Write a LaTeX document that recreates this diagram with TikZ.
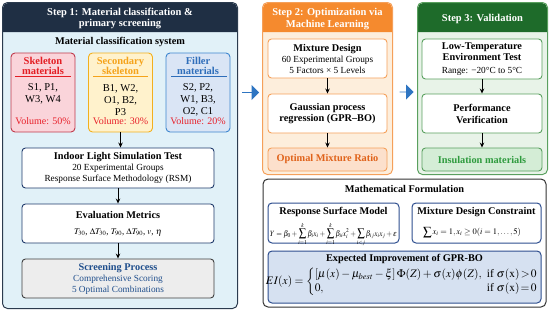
\documentclass[tikz,border=0pt]{standalone}
\usepackage{amsmath}
\usepackage{mathptmx}
\usepackage{fontspec}
\setmainfont{Liberation Serif}
\usetikzlibrary{shapes.arrows,arrows.meta,calc}
\newcommand\btfont{\fontsize{10.3}{11}\selectfont\bfseries}
\definecolor{navyhead}{HTML}{1F2F44}
\definecolor{p1body}{HTML}{E1F1F8}
\definecolor{p1border}{HTML}{2B3B4E}
\definecolor{skb}{HTML}{C0394B}
\definecolor{skf}{HTML}{FAD4DA}
\definecolor{skt}{HTML}{E31E24}
\definecolor{seb}{HTML}{F2B01E}
\definecolor{sef}{HTML}{FFF2CC}
\definecolor{set}{HTML}{F5A31A}
\definecolor{fib}{HTML}{3D86CF}
\definecolor{fif}{HTML}{DAE5F5}
\definecolor{fit}{HTML}{2F6EBA}
\definecolor{volred}{HTML}{E8202A}
\definecolor{boxnavy}{HTML}{1F3A6B}
\definecolor{scrf}{HTML}{EDEDED}
\definecolor{scrt}{HTML}{1F4E8C}
\definecolor{orhead}{HTML}{F58A2E}
\definecolor{orbody}{HTML}{FDEEDC}
\definecolor{orborder}{HTML}{F5A05A}
\definecolor{optf}{HTML}{FCE0CC}
\definecolor{optt}{HTML}{E0621A}
\definecolor{grhead}{HTML}{1E6B2A}
\definecolor{grbody}{HTML}{E8F3E8}
\definecolor{grborder}{HTML}{5AA05F}
\definecolor{insf}{HTML}{D4EDD6}
\definecolor{inst}{HTML}{2E9B3E}
\definecolor{bigarrow}{HTML}{2E75C2}
\definecolor{mathborder}{HTML}{333333}
\definecolor{rsmb}{HTML}{2F4F8F}
\definecolor{eif}{HTML}{D6E1F1}
\begin{document}
\begin{tikzpicture}[x=1pt,y=-1pt,
  panel/.style={rounded corners=5pt, line width=1pt, inner sep=0pt},
  htxt/.style={text=white, font=\fontsize{10.5}{11.5}\selectfont\bfseries, align=center, inner sep=0pt},
  matbox/.style={draw, rounded corners=4pt, line width=0.9pt, minimum width=64pt, minimum height=79pt, inner sep=0pt},
  mtitle/.style={font=\fontsize{10.5}{10.5}\selectfont\bfseries, align=center, inner sep=0pt},
  mtext/.style={font=\fontsize{10.5}{12}\selectfont, align=center, inner sep=0pt},
  mvol/.style={font=\fontsize{10}{12}\selectfont, text=volred, inner sep=0pt},
  sbox/.style={draw, fill=white, rounded corners=3.5pt, line width=0.9pt, inner sep=0pt, align=center, font=\fontsize{9.3}{11}\selectfont},
  btitle/.style={font=\btfont},
  flow/.style={-{Stealth[length=5pt,width=4.5pt]}, line width=0.9pt, black},
  bigarr/.style={single arrow, fill=bigarrow, draw=none, single arrow head extend=3.5pt, minimum width=15pt, inner sep=0pt}
]
\useasboundingbox (0,0) rectangle (550,311);

% ---------- Panel 1 ----------
\node[panel, fill=p1body, minimum width=234pt, minimum height=305pt] (p1) at (120,155.5) {};
\fill[navyhead] (3,32) [rounded corners=5pt] -- (3,3) -- (237,3) [sharp corners] -- (237,32) -- cycle;
\draw[p1border, line width=1pt, rounded corners=5pt] (p1.north west) rectangle (p1.south east);
\node[htxt] (p1t) at (120,18.5) {Step 1: Material classification \&\\primary screening};
\node[btitle, inner sep=0pt] (mcs) at (120,42) {Material classification system};

\node[matbox, draw=skb, fill=skf] (skel) at (43,92.5) {};
\node[mtitle, text=skt] (skelt) at (43,66) {Skeleton\\materials};
\draw[skt, line width=0.8pt] (15,76.5) -- (71,76.5);
\node[mtext] (skelc) at (43,94) {S1, P1,\\W3, W4};
\node[mvol] (skelv) at (43,121) {Volume: 50\%};

\node[matbox, draw=seb, fill=sef] (sec) at (120.5,92.5) {};
\node[mtitle, text=set] (sect) at (120.5,66) {Secondary\\skeleton};
\draw[set, line width=0.8pt] (93,76.5) -- (148,76.5);
\node[mtext] (secc) at (120.5,100) {B1, W2,\\O1, B2,\\P3};
\node[mvol] (secv) at (120.5,121) {Volume: 30\%};

\node[matbox, draw=fib, fill=fif] (fil) at (198,92.5) {};
\node[mtitle, text=fit] (filt) at (198,66) {Filler\\materials};
\draw[fit, line width=0.8pt] (171,76.5) -- (227,76.5);
\node[mtext] (filc) at (198,100) {S2, P2,\\W1, B3,\\O2, C1};
\node[mvol] (filv) at (198,121) {Volume: 20\%};

\node[sbox, draw=boxnavy, minimum width=192pt, minimum height=40pt] (indoor) at (118,168)
  {{\btfont Indoor Light Simulation Test}\\20 Experimental Groups\\Response Surface Methodology (RSM)};
\node[sbox, draw=boxnavy, minimum width=192pt, minimum height=39pt] (eval) at (118,223.5)
  {{\btfont Evaluation Metrics}\\[5pt]{\fontsize{8.8}{10}\selectfont $T_{30}$, $\Delta T_{30}$, $T_{90}$, $\Delta T_{90}$, $v$, $\eta$}};
\node[sbox, draw=black!75, fill=scrf, text=scrt, minimum width=192pt, minimum height=39pt] (scr) at (118,278.5)
  {{\btfont Screening Process}\\Comprehensive Scoring\\5 Optimal Combinations};

\draw[flow] (sec.south) -- (sec.south |- indoor.north);
\draw[flow] (indoor.south) -- (eval.north);
\draw[flow] (eval.south) -- (scr.north);

% ---------- Panel 2 ----------
\node[panel, fill=orbody, minimum width=129pt, minimum height=171pt] (p2) at (327.5,88.5) {};
\fill[orhead] (263,32) [rounded corners=5pt] -- (263,3) -- (392,3) [sharp corners] -- (392,32) -- cycle;
\draw[orborder, line width=1pt, rounded corners=5pt] (p2.north west) rectangle (p2.south east);
\node[htxt] (p2t) at (327.5,19) {Step 2: Optimization via\\Machine Learning};

\node[sbox, draw=orborder, minimum width=119pt, minimum height=39pt] (mix) at (327.5,58.5)
  {{\btfont Mixture Design}\\60 Experimental Groups\\5 Factors × 5 Levels};
\node[sbox, draw=orborder, minimum width=119pt, minimum height=39pt, font=\fontsize{10.3}{11.5}\selectfont\bfseries] (gpr) at (327.5,113.5)
  {Gaussian process\\regression (GPR–BO)};
\node[sbox, draw=orborder, fill=optf, text=optt, minimum width=119pt, minimum height=23pt, font=\btfont] (opt) at (327.5,159.5)
  {Optimal Mixture Ratio};
\draw[flow] (mix.south) -- (gpr.north);
\draw[flow] (gpr.south) -- (opt.north);

% ---------- Panel 3 ----------
\node[panel, fill=grbody, minimum width=129pt, minimum height=171pt] (p3) at (482.5,88.5) {};
\fill[grhead] (418,32) [rounded corners=5pt] -- (418,3) -- (547,3) [sharp corners] -- (547,32) -- cycle;
\draw[grborder, line width=1pt, rounded corners=5pt] (p3.north west) rectangle (p3.south east);
\node[htxt] (p3t) at (482.5,19) {Step 3: Validation};

\node[sbox, draw=grborder, minimum width=120pt, minimum height=40pt] (lowt) at (482,59)
  {{\btfont Low-Temperature}\\{\btfont Environment Test}\\[2pt]Range: −20°C to 5°C};
\node[sbox, draw=grborder, minimum width=120pt, minimum height=39pt, font=\fontsize{10.3}{12}\selectfont\bfseries] (perf) at (482,113.5)
  {Performance\\Verification};
\node[sbox, draw=grborder, fill=insf, text=inst, minimum width=120pt, minimum height=23pt, font=\btfont] (ins) at (482,159.5)
  {Insulation materials};
\draw[flow] (lowt.south) -- (perf.north);
\draw[flow] (perf.south) -- (ins.north);

% ---------- Big arrows ----------
\node[bigarr, minimum height=17pt] (a1) at (250.5,92.5) {};
\node[bigarr, minimum height=14pt] (a2) at (406.5,92) {};

% ---------- Math panel ----------
\node[draw=mathborder, fill=white, rounded corners=5pt, line width=1pt, minimum width=283pt, minimum height=128pt, inner sep=0pt] (mp) at (404.5,243) {};
\node[btitle, inner sep=0pt] (mpt) at (404.5,189) {Mathematical Formulation};

\node[draw=rsmb, fill=white, rounded corners=4pt, line width=1pt, minimum width=131pt, minimum height=40pt, inner sep=0pt] (rsm) at (333.5,223) {};
\node[btitle, inner sep=0pt] (rsmt) at (333.5,212) {Response Surface Model};
\node[inner sep=0pt] (rsmf) at (333.5,234.5) {\resizebox{127pt}{13.5pt}{$\displaystyle Y=\beta_0+\sum_{i=1}^{k}\beta_i x_i+\sum_{i=1}^{k}\beta_{ii}x_i^2+\sum_{i<j}\beta_{ij}x_ix_j+\varepsilon$}};

\node[draw=rsmb, fill=white, rounded corners=4pt, line width=1pt, minimum width=129pt, minimum height=40pt, inner sep=0pt] (mdc) at (476.5,223) {};
\node[btitle, inner sep=0pt] (mdct) at (476.5,212) {Mixture Design Constraint};
\node[inner sep=0pt] (mdcf) at (472,232.5) {\resizebox{98pt}{!}{$\displaystyle\sum x_i=1, x_i\geq 0 (i=1,\ldots,5)$}};

\node[draw=rsmb, fill=eif, rounded corners=4pt, line width=1pt, minimum width=273pt, minimum height=52pt, inner sep=0pt] (ei) at (404.5,277) {};
\node[btitle, inner sep=0pt] (eit) at (404.5,259) {Expected Improvement of GPR-BO};
\node[inner sep=0pt] (eif) at (402,282) {\resizebox{272pt}{!}{$EI(x)=\left\{\begin{array}{@{}l@{\;\;}r@{}}\left[\mu(x)-\mu_{best}-\xi\right]\Phi(Z)+\sigma(x)\phi(Z), & \text{if } \sigma(\mathrm{x})\!>\!0\\ 0, & \text{if } \sigma(\mathrm{x})\!=\!0\end{array}\right.$}};
\end{tikzpicture}
\end{document}
